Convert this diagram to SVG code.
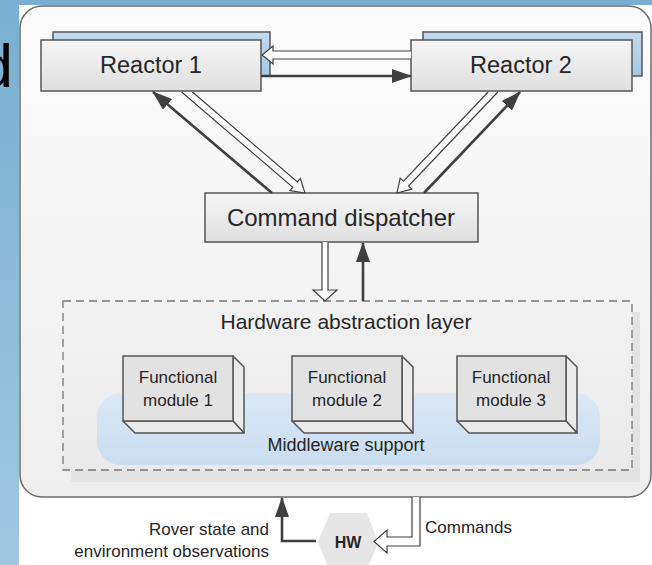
<svg xmlns="http://www.w3.org/2000/svg" width="652" height="565" viewBox="0 0 652 565">
<style>
.t{font-family:"Liberation Sans",Arial,sans-serif;fill:#262626;text-anchor:middle}
.box{fill:url(#gBox);stroke:#555;stroke-width:1.5}
.back{fill:url(#gBlue);stroke:#555;stroke-width:1.5}
.front{fill:#e2e2e2;stroke:#555;stroke-width:1.5}
.side{fill:#ebebeb;stroke:#555;stroke-width:1.5;stroke-linejoin:round}
.hollow{fill:#fff;stroke:#404040;stroke-width:1.2;stroke-linejoin:miter}
.solid{fill:none;stroke:#404040;stroke-width:2.6;marker-end:url(#head)}
</style>
<defs>
<linearGradient id="gStrip" x1="0" y1="0" x2="0" y2="1">
<stop offset="0" stop-color="#78afd2"/><stop offset="1" stop-color="#9fc8de"/>
</linearGradient>
<linearGradient id="gCont" x1="0" y1="0" x2="0" y2="1">
<stop offset="0" stop-color="#fbfbfb"/><stop offset="1" stop-color="#eeeeee"/>
</linearGradient>
<linearGradient id="gBox" x1="0" y1="0" x2="0" y2="1">
<stop offset="0" stop-color="#f5f5f5"/><stop offset="1" stop-color="#dfdfdf"/>
</linearGradient>
<linearGradient id="gBlue" x1="0" y1="0" x2="0" y2="1">
<stop offset="0" stop-color="#c3daee"/><stop offset="1" stop-color="#a8c6e2"/>
</linearGradient>
<linearGradient id="gHal" x1="0" y1="0" x2="0" y2="1">
<stop offset="0" stop-color="#f2f2f2"/><stop offset="1" stop-color="#eaeaea"/>
</linearGradient>
<linearGradient id="gMid" x1="0" y1="0" x2="0" y2="1">
<stop offset="0" stop-color="#dce8f4"/><stop offset="1" stop-color="#c9dcee"/>
</linearGradient>
<marker id="head" viewBox="0 0 20 14" refX="19" refY="7" markerWidth="20" markerHeight="14" markerUnits="userSpaceOnUse" orient="auto">
<path d="M0,0 L20,7 L0,14 z" fill="#404040"/>
</marker>
</defs>

<g id="background">
<rect x="0" y="0" width="652" height="565" fill="url(#gStrip)"/>
<rect x="19" y="5" width="633" height="560" fill="#ffffff"/>
<text x="-21.5" y="87" style="font-family:'Liberation Sans',Arial,sans-serif;font-size:62px;fill:#000">d</text>
<rect x="20" y="6" width="631" height="491" rx="22" ry="22" fill="url(#gCont)" stroke="#6b6b6b" stroke-width="1.5"/>
</g>

<g id="hal">
<rect x="71" y="312" width="569" height="170" fill="#e3e3e3"/>
<rect x="63" y="301" width="569" height="169" fill="url(#gHal)" stroke="#777" stroke-width="1.3" stroke-dasharray="8,5"/>
<text class="t" x="346" y="329" style="font-size:21px">Hardware abstraction layer</text>
</g>

<g id="middleware">
<rect x="97" y="393" width="503" height="72" rx="24" ry="24" fill="url(#gMid)"/>
<text class="t" x="346" y="451" style="font-size:18px">Middleware support</text>
</g>

<g id="module1">
<path class="side" d="M233,356 L244,367 V433 L233,421 Z"/>
<path class="side" d="M123,421 L135,433 H244 L233,421 Z"/>
<rect class="front" x="123" y="356" width="110" height="65"/>
<text class="t" x="178" y="383" style="font-size:17px">Functional</text>
<text class="t" x="178" y="406" style="font-size:17px">module 1</text>
</g>

<g id="module2">
<path class="side" d="M402,356 L413,367 V433 L402,421 Z"/>
<path class="side" d="M292,421 L304,433 H413 L402,421 Z"/>
<rect class="front" x="292" y="356" width="110" height="65"/>
<text class="t" x="347" y="383" style="font-size:17px">Functional</text>
<text class="t" x="347" y="406" style="font-size:17px">module 2</text>
</g>

<g id="module3">
<path class="side" d="M566,356 L577,367 V433 L566,421 Z"/>
<path class="side" d="M457,421 L469,433 H577 L566,421 Z"/>
<rect class="front" x="457" y="356" width="109" height="65"/>
<text class="t" x="511" y="383" style="font-size:17px">Functional</text>
<text class="t" x="511" y="406" style="font-size:17px">module 3</text>
</g>

<g id="reactor1">
<rect class="back" x="53" y="32" width="217" height="44"/>
<rect class="box" x="41" y="40" width="220" height="51"/>
<text class="t" x="151" y="73" style="font-size:23.5px">Reactor 1</text>
</g>

<g id="reactor2">
<rect class="back" x="423" y="32" width="219" height="44"/>
<rect class="box" x="411" y="40" width="221" height="51"/>
<text class="t" x="521" y="73" style="font-size:23.5px">Reactor 2</text>
</g>

<g id="dispatcher">
<rect class="box" x="205" y="193" width="273" height="49"/>
<text class="t" x="341" y="226" style="font-size:24px">Command dispatcher</text>
</g>

<g id="hw">
<polygon points="318,542 330,513 367,513 378,542 367,571 330,571" fill="#e6e6e6"/>
<text class="t" x="348" y="548" style="font-size:16px;font-weight:bold">HW</text>
</g>

<g id="labels">
<text class="t" x="269" y="535" style="font-size:17px;text-anchor:end">Rover state and</text>
<text class="t" x="269" y="557" style="font-size:17px;text-anchor:end">environment observations</text>
<text class="t" x="425" y="533" style="font-size:17px;text-anchor:start">Commands</text>
</g>

<g id="connectors">
<path class="hollow" d="M411,51 H273 V46 L262,55 L273,64 V59 H411"/>
<line class="solid" x1="261" y1="76" x2="411" y2="76"/>
<path class="hollow" d="M181.6,92 L292.84,187.21 L289.92,190.63 L305,193 L300.32,178.47 L297.4,181.89 L192.37,92"/>
<line class="solid" x1="272" y1="193" x2="153" y2="92"/>
<path class="hollow" d="M488.18,92 L403.42,181.17 L400.16,178.07 L397,193 L411.76,189.09 L408.5,185.99 L497.84,92"/>
<line class="solid" x1="424" y1="193" x2="520" y2="92"/>
<path class="hollow" d="M322,242 V290 H313 L325,301 L337,290 H328 V242"/>
<line class="solid" x1="363" y1="301" x2="363" y2="243"/>
<path class="solid" d="M316,541 H282 V498"/>
<path class="hollow" d="M412,497 V537 H387 V530 L374,541.5 L387,553 V546 H420 V497"/>
</g>
</svg>
